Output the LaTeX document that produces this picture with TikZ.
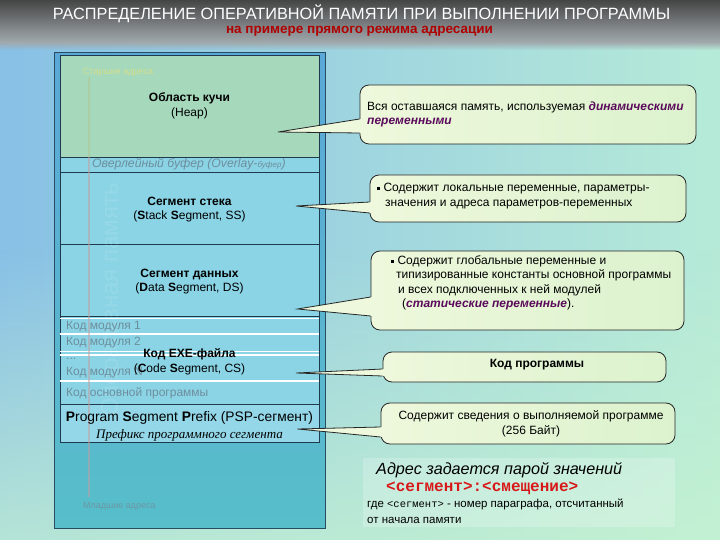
\documentclass[tikz,border=0pt]{standalone}
\usepackage{fontspec}
\setmainfont{Liberation Sans}
\setmonofont{Liberation Mono}
\newfontfamily\serifx{Liberation Serif}
\usetikzlibrary{calc,fadings}
\definecolor{bgL}{HTML}{88C0E6}
\definecolor{bgR}{HTML}{B6EAD8}
\definecolor{bgB}{HTML}{C8F4D0}
\definecolor{tbTop}{HTML}{454545}
\definecolor{tbBot}{HTML}{A0A8AC}
\definecolor{panelT}{HTML}{5AA8D8}
\definecolor{panelB}{HTML}{58BECA}
\definecolor{heapC}{HTML}{A6D8BC}
\definecolor{segC}{HTML}{8AD4E6}
\definecolor{lineC}{HTML}{1E3A4C}
\definecolor{grayT}{HTML}{6E8E9C}
\definecolor{cfL}{HTML}{EEF8DC}
\definecolor{cfR}{HTML}{DCF2CE}
\definecolor{dynC}{HTML}{5A0A5A}
\definecolor{subR}{HTML}{B00000}
\definecolor{addrR}{HTML}{D81818}
\newcommand{\dynw}[1]{\textcolor{dynC}{\bfseries\itshape #1}}
\newcommand{\bul}{\raisebox{.25ex}{\rule{3pt}{3pt}}\ }
\tikzset{
  sect/.style={draw=lineC, line width=0.8pt, anchor=north west, inner sep=0pt, align=center},
  callout/.style={draw=black!85, line width=0.8pt, left color=cfL, right color=cfR, rounded corners=9pt, inner sep=0pt},
  ctext/.style={font=\fontsize{12}{14.5}\selectfont, align=left, inner sep=0pt},
  tailline/.style={draw=black!85, line width=0.8pt},
  graytxt/.style={text=grayT, font=\fontsize{12}{14}\selectfont, anchor=west, inner sep=0pt},
  wline/.style={draw=white, line width=1.5pt}
}
\begin{document}
\begin{tikzpicture}[x=1pt,y=-1pt]
\useasboundingbox (0,0) rectangle (720,540);
% background
\shade[left color=bgL, right color=bgR] (0,0) rectangle (720,540);
\fill[bgB, path fading=north, opacity=.7] (0,250) rectangle (720,540);
% title bar
\shade[top color=tbTop, bottom color=tbBot] (0,0) rectangle (720,42);
\fill[tbBot, path fading=south] (0,42) rectangle (720,50);
\node[text=white, font=\fontsize{16.3}{18}\selectfont] (title) at (361.5,14) {РАСПРЕДЕЛЕНИЕ ОПЕРАТИВНОЙ ПАМЯТИ ПРИ ВЫПОЛНЕНИИ ПРОГРАММЫ};
\node[text=subR, font=\bfseries\fontsize{13.5}{15}\selectfont] (subtitle) at (359.5,31) {на примере прямого режима адресации};
% memory column
\node[draw=black!55!panelT, line width=0.8pt, top color=panelT, bottom color=panelB, minimum width=271pt, minimum height=476pt, anchor=north west, inner sep=0pt] (col) at (54,52) {};
\node[sect, fill=heapC, minimum width=259pt, minimum height=102pt] (heap) at (60,55) {};
\node[font=\fontsize{12}{15}\selectfont, align=center, inner sep=0pt] (heapt) at (189.5,105.5) {\textbf{Область кучи}\\(Heap)};
\node[sect, fill=segC, minimum width=259pt, minimum height=15pt] (ovl) at (60,157) {};
\node[sect, fill=segC, minimum width=259pt, minimum height=72pt] (stack) at (60,172) {};
\node[font=\fontsize{12}{14}\selectfont, align=center, inner sep=0pt] (stackt) at (189.5,209.5) {\textbf{Сегмент стека}\\(\textbf{S}tack \textbf{S}egment, SS)};
\node[sect, fill=segC, minimum width=259pt, minimum height=72pt] (data) at (60,244) {};
\node[font=\fontsize{12}{14}\selectfont, align=center, inner sep=0pt] (datat) at (189.5,281.5) {\textbf{Сегмент данных}\\(\textbf{D}ata \textbf{S}egment, DS)};
\node[sect, fill=segC, minimum width=259pt, minimum height=88pt] (code) at (60,316) {};
\node[sect, fill=segC!92!white, minimum width=259pt, minimum height=38pt] (psp) at (60,404) {};
% white lines in code area
\draw[wline] (60,318.5) -- (319,318.5);
\draw[wline] (60,334) -- (319,334);
\draw[wline] (60,351.5) -- (319,351.5);
\draw[wline] (60,355) -- (319,355);
\draw[wline] (60,381) -- (319,381);
\draw[lineC, line width=0.8pt] (60,404) -- (319,404);
% vertical address line and faint label
\draw[line width=2.2pt, color=yellow!40!gray, opacity=.3] (89,77) -- (89,157);
\draw[line width=2.2pt, color=gray!70!red!60!white, opacity=.5] (89,157) -- (89,497);
\node[rotate=90, text=white, opacity=.1, font=\fontsize{24}{26}\selectfont] (vlabel) at (112,300) {Оперативная память};
\node[text=yellow!70!gray!70!white, opacity=.7, font=\fontsize{9}{11}\selectfont, anchor=west, inner sep=0pt] (hi) at (83,72) {Старшие адреса};
\node[text=gray!70!cyan!80!black, opacity=.7, font=\fontsize{9}{11}\selectfont, anchor=west, inner sep=0pt] (lo) at (83,506) {Младшие адреса};
% overlay text
\node[text=grayT, font=\itshape\fontsize{12.2}{13}\selectfont, anchor=west, inner sep=0pt] (ovlt) at (92,164.5) {Оверлейный буфер (Overlay-{\fontsize{8}{8}\selectfont буфер})};
% code area texts
\node[graytxt] (m1) at (66,327) {Код модуля 1};
\node[graytxt] (m2) at (66,343) {Код модуля 2};
\node[graytxt] (m3) at (66,359) {...};
\node[graytxt] (mn) at (66,373) {Код модуля N};
\node[graytxt] (mm) at (66,393) {Код основной программы};
\node[font=\fontsize{12}{14.5}\selectfont, align=center, inner sep=0pt] (exe) at (189.5,362) {\textbf{Код EXE-файла}\\(\textbf{C}ode \textbf{S}egment, CS)};
\node[font=\fontsize{13.8}{17}\selectfont, align=center, inner sep=0pt] (pspt) at (189.5,426.5) {\textbf{P}rogram \textbf{S}egment \textbf{P}refix (PSP-сегмент)\\{\serifx\itshape\fontsize{13}{15}\selectfont Префикс программного сегмента}};
% callouts
\node[callout, minimum width=336pt, minimum height=59pt] (c1) at (528,114.5) {};
\node[callout, minimum width=316pt, minimum height=47pt] (c2) at (528,198.5) {};
\node[callout, minimum width=313pt, minimum height=79pt] (c3) at (527.5,290.5) {};
\node[callout, minimum width=283pt, minimum height=30pt] (c4) at (524.5,367) {};
\node[callout, minimum width=294pt, minimum height=41pt] (c5) at (528,423.5) {};
\coordinate (p1) at (278,132);
\coordinate (p2) at (296,206);
\coordinate (p3) at (297.5,309);
\coordinate (p4) at (296,373);
\coordinate (p5) at (297.5,429);
\foreach \c/\p/\ya/\yb in {c1/p1/119/133, c2/p2/202/213, c3/p3/297/316, c4/p4/369/376, c5/p5/427/437}{
  \fill[cfL] (\p) -- ($(\c.west |- 0,\ya)+(1.6,0)$) -- ($(\c.west |- 0,\yb)+(1.6,0)$) -- cycle;
  \draw[tailline] (\c.west |- 0,\ya) -- (\p) -- (\c.west |- 0,\yb);
}
\node[ctext, anchor=west] (t1) at (367,114.5) {Вся оставшаяся память, используемая \dynw{динамическими}\\\dynw{переменными}};
\node[ctext, anchor=west] (t2) at (377,196) {\bul Содержит локальные переменные, параметры-\\\hspace*{8pt}значения и адреса параметров-переменных};
\node[ctext, anchor=west] (t3) at (391,283) {\bul Содержит глобальные переменные и\\\hspace*{5pt}типизированные константы основной программы\\\hspace*{7pt}и всех подключенных к ней модулей\\\hspace*{11pt}(\dynw{статические переменные}).};
\node[ctext, font=\bfseries\fontsize{12}{14}\selectfont] (t4) at (537,365) {Код программы};
\node[ctext, align=center] (t5) at (531,424) {Содержит сведения о выполняемой программе\\(256 Байт)};
% address note
\fill[white, opacity=.22] (363,458) rectangle (675,527);
\node[font=\itshape\fontsize{16.2}{18}\selectfont, anchor=west, inner sep=0pt] (a1) at (376,470) {Адрес задается парой значений};
\node[text=addrR, font=\ttfamily\bfseries\fontsize{16}{18}\selectfont, anchor=west, inner sep=0pt] (a2) at (386,488) {<сегмент>:<смещение>};
\node[font=\fontsize{11.5}{13}\selectfont, anchor=west, inner sep=0pt] (a3) at (367,504) {где {\ttfamily\fontsize{10.5}{11}\selectfont<сегмент>} - номер параграфа, отсчитанный};
\node[font=\fontsize{11.5}{13}\selectfont, anchor=west, inner sep=0pt] (a4) at (367,520) {от начала памяти};
\end{tikzpicture}
\end{document}
